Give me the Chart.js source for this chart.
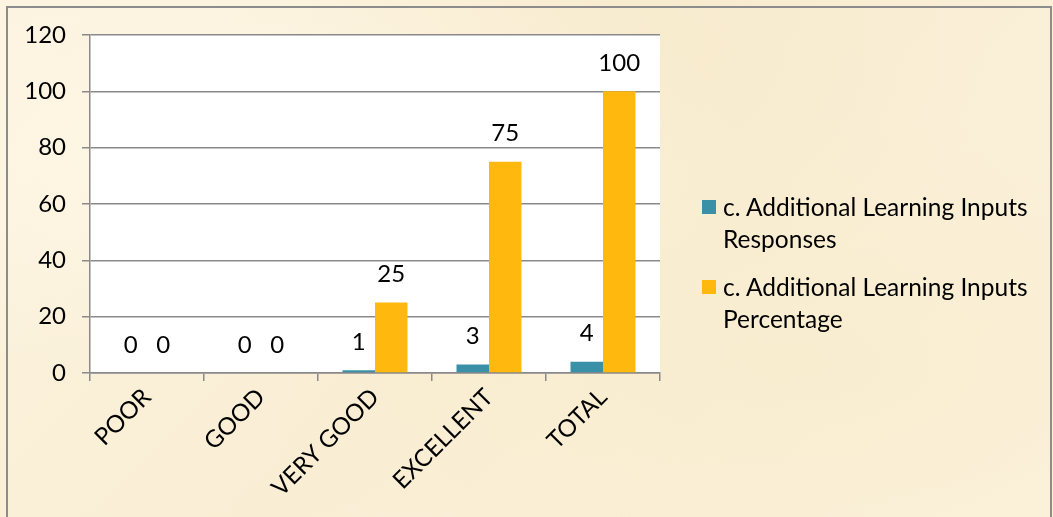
<!DOCTYPE html>
<html>
<head>
<meta charset="utf-8">
<script src="https://cdn.jsdelivr.net/npm/chart.js@4.4.0/dist/chart.umd.min.js"></script>
<style>
  html, body { margin: 0; padding: 0; }
  body {
    width: 1053px; height: 517px; overflow: hidden; position: relative;
    background:
      radial-gradient(ellipse at 20% 30%, rgba(255,248,232,0.8), rgba(255,248,232,0) 45%),
      radial-gradient(ellipse at 75% 70%, rgba(248,236,204,0.7), rgba(248,236,204,0) 50%),
      radial-gradient(ellipse at 60% 10%, rgba(246,232,200,0.6), rgba(246,232,200,0) 40%),
      linear-gradient(135deg, #fcf3df 0%, #f9eed4 50%, #fbf2dc 100%);
    font-family: Lato, "Open Sans", sans-serif;
  }
  #frame {
    position: absolute; left: 6px; top: 6px; width: 1042px; height: 520px;
    border: 2px solid #8c8c8c; border-bottom: none;
  }
  #chart { position: absolute; left: 0; top: 0; }
  #legend { position: absolute; left: 702px; top: 191px; }
  .item { position: relative; padding-left: 21px; font-size: 24.5px; line-height: 32px; color: #000; margin-bottom: 16px; }
  .item .box { position: absolute; left: 0; top: 9px; width: 14px; height: 14px; }
</style>
</head>
<body>
<div id="frame"></div>
<canvas id="chart" width="1053" height="517"></canvas>
<div id="legend"></div>
<script>
// chart data
const categories = ["POOR", "GOOD", "VERY GOOD", "EXCELLENT", "TOTAL"];
const responses = [0, 0, 1, 3, 4];
const percentage = [0, 0, 25, 75, 100];
const seriesNames = [
    "c. Additional Learning Inputs Responses",
    "c. Additional Learning Inputs Percentage"
];
const seriesLegendLines = [
    ["c. Additional Learning Inputs", "Responses"],
    ["c. Additional Learning Inputs", "Percentage"]
];
const yTicks = [0, 20, 40, 60, 80, 100, 120];

const colors = ["#3A91A7", "#FFB80E"];
const font = "Lato, 'Open Sans', sans-serif";
const fontSize = 24;

// value labels above the bars
const valueLabels = {
    id: 'valueLabels',
    afterDatasetsDraw(chart) {
        const ctx = chart.ctx;
        ctx.save();
        ctx.fillStyle = "#000";
        ctx.font = fontSize + "px " + font;
        ctx.textAlign = "center";
        ctx.textBaseline = "middle";
        chart.data.datasets.forEach((ds, i) => {
            chart.getDatasetMeta(i).data.forEach((bar, j) => {
                ctx.fillText(String(ds.data[j]), bar.x, bar.y - 28);
            });
        });
        ctx.restore();
    }
};

// white plot area
const plotBg = {
    id: 'plotBg',
    beforeDraw(chart) {
        const a = chart.chartArea;
        chart.ctx.save();
        chart.ctx.fillStyle = "#ffffff";
        chart.ctx.fillRect(a.left, a.top, a.right - a.left, a.bottom - a.top);
        chart.ctx.restore();
    }
};

const ctx = document.getElementById("chart").getContext("2d");
new Chart(ctx, {
    type: 'bar',
    data: {
        labels: categories,
        datasets: [
            { label: seriesNames[0], data: responses, backgroundColor: colors[0], borderWidth: 0 },
            { label: seriesNames[1], data: percentage, backgroundColor: colors[1], borderWidth: 0 }
        ]
    },
    options: {
        responsive: false,
        animation: false,
        categoryPercentage: 0.57,
        barPercentage: 1.0,
        layout: { padding: { left: 0, top: 35, right: 393, bottom: 0 } },
        plugins: {
            legend: { display: false },
            tooltip: { enabled: false }
        },
        scales: {
            x: {
                afterFit(scale) { scale.height = 144; },
                grid: { drawOnChartArea: false, drawTicks: true, tickLength: 8, color: "#8a8a8a", lineWidth: 1.5 },
                border: { color: "#8a8a8a", width: 1.5 },
                ticks: {
                    color: "#000",
                    font: { family: font, size: fontSize },
                    minRotation: 45, maxRotation: 45,
                    padding: 2
                }
            },
            y: {
                min: 0, max: 120,
                afterFit(scale) { scale.width = 90; },
                afterBuildTicks(scale) { scale.ticks = yTicks.map(v => ({ value: v })); },
                grid: { color: "#8a8a8a", lineWidth: 1.5, tickLength: 8 },
                border: { color: "#8a8a8a", width: 1.5 },
                ticks: {
                    color: "#000",
                    font: { family: font, size: fontSize },
                    padding: 16
                }
            }
        }
    },
    plugins: [plotBg, valueLabels]
});

// legend on the right, text wrapped like the original
const legend = document.getElementById("legend");
seriesLegendLines.forEach((lines, i) => {
    const item = document.createElement("div");
    item.className = "item";
    const box = document.createElement("span");
    box.className = "box";
    box.style.background = colors[i];
    item.appendChild(box);
    lines.forEach((t, k) => {
        if (k) item.appendChild(document.createElement("br"));
        item.appendChild(document.createTextNode(t));
    });
    legend.appendChild(item);
});
</script>
</body>
</html>
